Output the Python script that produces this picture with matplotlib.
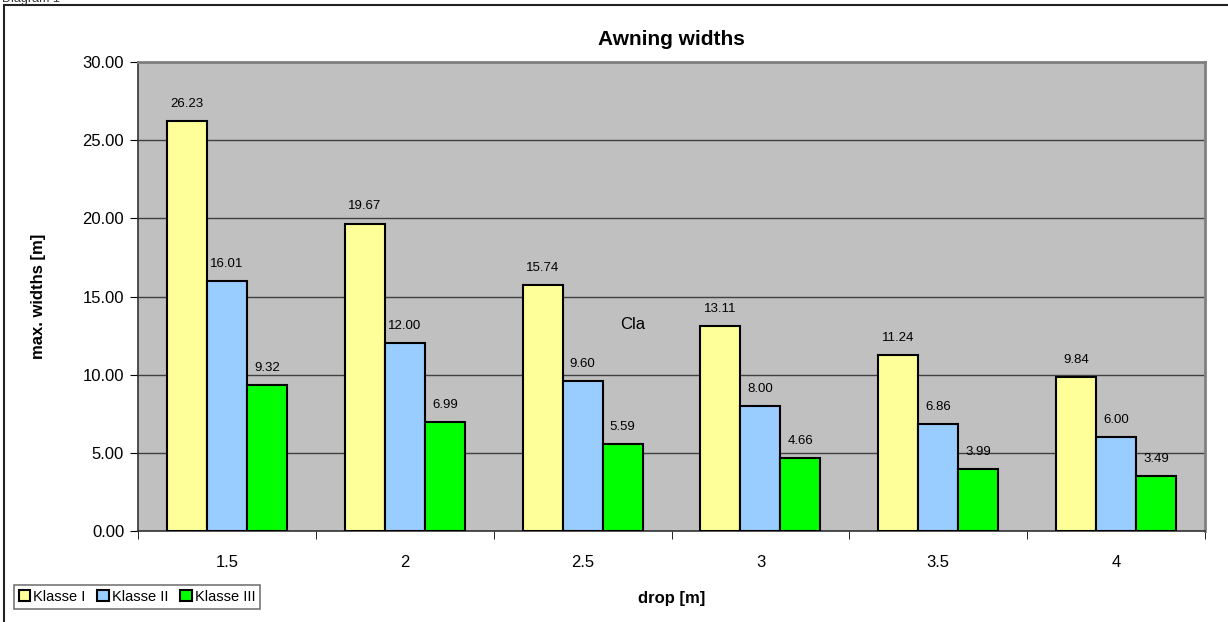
import matplotlib.pyplot as plt
import matplotlib.patches as mpatches
import numpy as np

# data
drops = ["1.5", "2", "2.5", "3", "3.5", "4"]
klasse_1 = [26.23, 19.67, 15.74, 13.11, 11.24, 9.84]
klasse_2 = [16.01, 12.00, 9.60, 8.00, 6.86, 6.00]
klasse_3 = [9.32, 6.99, 5.59, 4.66, 3.99, 3.49]
series_names = ["Klasse I", "Klasse II", "Klasse III"]
colors = ["#FFFF99", "#99CCFF", "#00FF00"]

plt.rcParams['font.family'] = ['Liberation Sans', 'DejaVu Sans']

fig = plt.figure(figsize=(12.28, 6.22), dpi=100)
ax = fig.add_axes([0.1124, 0.1463, 0.8689, 0.754])
ax.set_facecolor("#C0C0C0")

x = np.arange(len(drops))
width = 0.225
for i, (vals, name, col) in enumerate(zip([klasse_1, klasse_2, klasse_3], series_names, colors)):
    pos = x + (i - 1) * width
    ax.bar(pos, vals, width, color=col, edgecolor="black", linewidth=1.5, label=name, zorder=3)
    for px, v in zip(pos, vals):
        ax.annotate(f"{v:.2f}", (px, v), xytext=(0, 8), textcoords="offset points",
                    ha="center", va="bottom", fontsize=9.5)

ax.set_xlim(-0.5, len(drops) - 0.5)
ax.set_ylim(0, 30)
ax.set_yticks(np.arange(0, 31, 5))
ax.set_yticklabels([f"{t:.2f}" for t in np.arange(0, 31, 5)], fontsize=12)
ax.set_xticks(x)
ax.set_xticklabels(drops, fontsize=12)
ax.tick_params(axis="x", length=0, pad=17)
ax.tick_params(axis="y", length=6, direction="out", pad=4)
ax.set_xticks(np.arange(-0.5, len(drops)), minor=True)
ax.tick_params(axis="x", which="minor", length=6, direction="out")
ax.yaxis.grid(True, color="#404040", linewidth=1, zorder=0)
ax.set_axisbelow(True)

for side in ["left", "bottom"]:
    ax.spines[side].set_color("#333333")
    ax.spines[side].set_linewidth(1.2)
for side in ["top", "right"]:
    ax.spines[side].set_color("#808080")
    ax.spines[side].set_linewidth(2)

ax.set_title("Awning widths", fontsize=15, fontweight="bold", pad=12)
ax.set_ylabel("max. widths [m]", fontsize=12, fontweight="bold", labelpad=26)
fig.text(0.547, 0.038, "drop [m]", fontsize=12, fontweight="bold", ha="center", va="center")

# stray label in the original chart
ax.text(2.28, 13.2, "Cla", fontsize=12, ha="center", va="center")

# outer frame and cut-off caption
fig.patches.append(mpatches.Rectangle((0.0033, -0.05), 1.2, 1.042, transform=fig.transFigure,
                                      fill=False, edgecolor="#222222", linewidth=1.5))
fig.text(0.002, 1.001, "Diagram 1", fontsize=9, ha="left", va="center", color="#333333")

leg = fig.legend(loc="lower left", bbox_to_anchor=(0.011, 0.021), ncol=3, fontsize=10.5,
                 handlelength=0.8, handleheight=0.8, handletextpad=0.2, columnspacing=0.8,
                 frameon=True, fancybox=False, borderpad=0.35, borderaxespad=0)
leg.get_frame().set_edgecolor("#555555")
leg.get_frame().set_linewidth(1.2)
for h in leg.legend_handles:
    h.set_linewidth(1.5)

fig.savefig("out.png", dpi=100)
